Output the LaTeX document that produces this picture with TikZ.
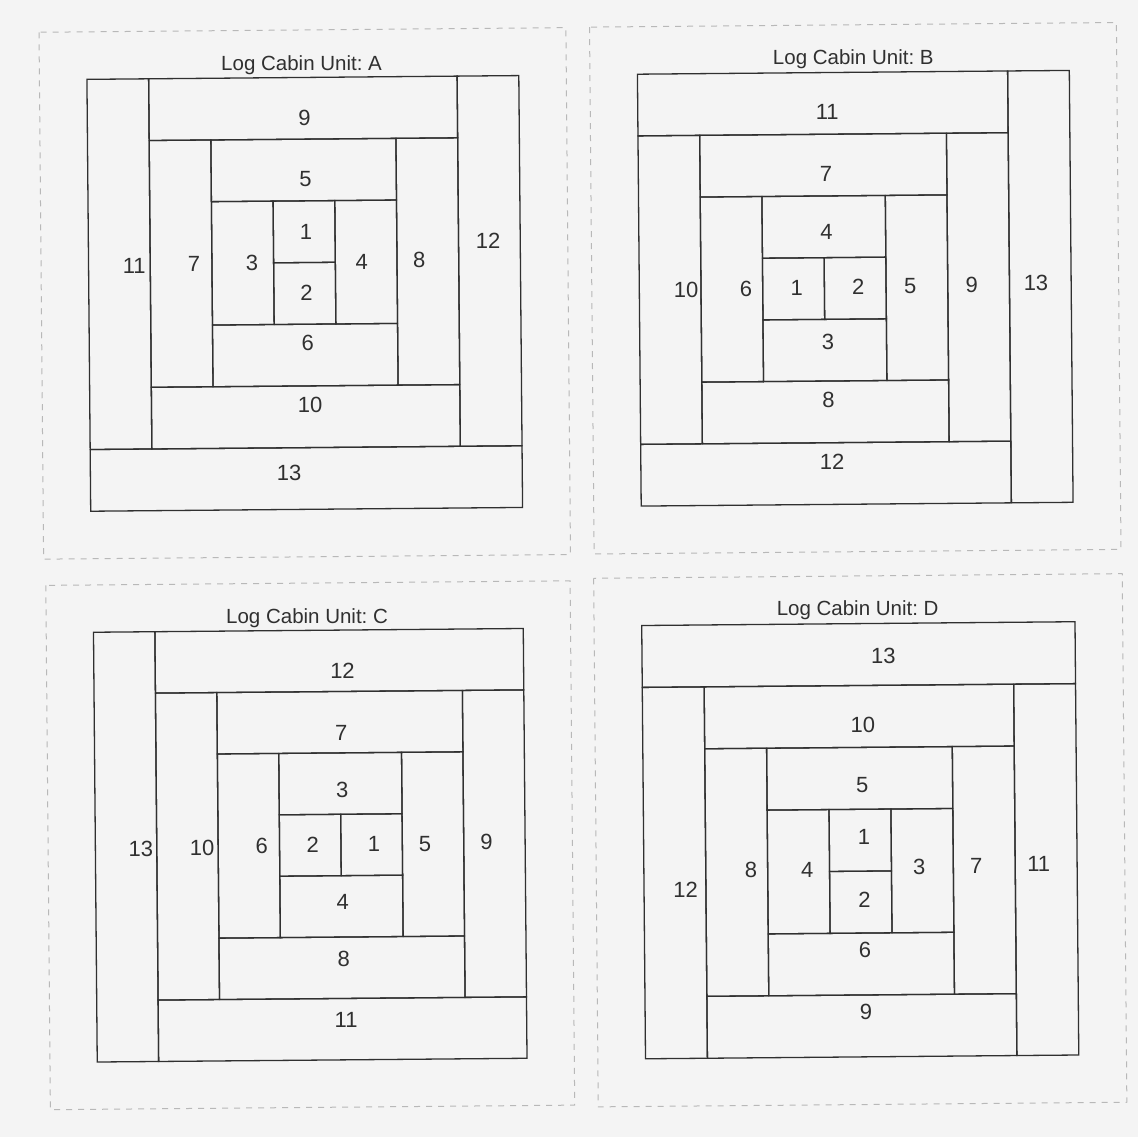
\documentclass[tikz,border=0pt]{standalone}
\usepackage{fontspec}
\setmainfont{Liberation Sans}
\frenchspacing
\definecolor{paper}{HTML}{F4F4F4}
\definecolor{ink}{HTML}{303030}
\definecolor{dashc}{HTML}{B8B8B8}
\tikzset{
  strip/.style={draw=ink, line width=1.3pt},
  num/.style={text=ink, font=\fontsize{22}{24}\selectfont, inner sep=0pt},
  ttl/.style={text=ink, font=\fontsize{20.5}{23}\selectfont, inner sep=0pt, anchor=base},
  cutline/.style={draw=dashc, line width=1pt, dash pattern=on 6pt off 6pt},
}
\begin{document}
\begin{tikzpicture}[x=1pt, y=-1pt]
\fill[paper] (0,0) rectangle (1138,1137);
\useasboundingbox (0,0) rectangle (1138,1137);

% ---------------- Unit A ----------------
\begin{scope}[shift={(304.75,293.4)}, rotate=0.5, x=61.7pt, y=-61.7pt, shift={(-3.5,-3.5)}]
  \draw[cutline] (-0.77,-0.77) rectangle (7.77,7.77);
  \node[ttl] (At) at (3.48,-0.12) {Log Cabin Unit: A};
  \draw[strip] (3,2) rectangle (4,3);
  \draw[strip] (3,3) rectangle (4,4);
  \draw[strip] (2,2) rectangle (3,4);
  \draw[strip] (4,2) rectangle (5,4);
  \draw[strip] (2,1) rectangle (5,2);
  \draw[strip] (2,4) rectangle (5,5);
  \draw[strip] (1,1) rectangle (2,5);
  \draw[strip] (5,1) rectangle (6,5);
  \draw[strip] (1,0) rectangle (6,1);
  \draw[strip] (1,5) rectangle (6,6);
  \draw[strip] (0,0) rectangle (1,6);
  \draw[strip] (6,0) rectangle (7,6);
  \draw[strip] (0,6) rectangle (7,7);
  \node[num] (A1)  at (3.53,2.50) {1};
  \node[num] (A2)  at (3.53,3.49) {2};
  \node[num] (A3)  at (2.65,3.00) {3};
  \node[num] (A4)  at (4.43,3.00) {4};
  \node[num] (A5)  at (3.53,1.65) {5};
  \node[num] (A6)  at (3.54,4.31) {6};
  \node[num] (A7)  at (1.71,3.00) {7};
  \node[num] (A8)  at (5.36,2.98) {8};
  \node[num] (A9)  at (3.52,0.66) {9};
  \node[num] (A10) at (3.57,5.31) {10};
  \node[num] (A11) at (0.74,3.03) {11};
  \node[num] (A12) at (6.48,2.67) {12};
  \node[num] (A13) at (3.22,6.41) {13};
\end{scope}

% ---------------- Unit B ----------------
\begin{scope}[shift={(855.25,288.25)}, rotate=0.5, x=61.7pt, y=-61.7pt, shift={(-3.5,-3.5)}]
  \draw[cutline] (-0.77,-0.77) rectangle (7.77,7.77);
  \node[ttl] (Bt) at (3.5,-0.13) {Log Cabin Unit: B};
  \draw[strip] (2,3) rectangle (3,4);
  \draw[strip] (3,3) rectangle (4,4);
  \draw[strip] (2,4) rectangle (4,5);
  \draw[strip] (2,2) rectangle (4,3);
  \draw[strip] (4,2) rectangle (5,5);
  \draw[strip] (1,2) rectangle (2,5);
  \draw[strip] (1,1) rectangle (5,2);
  \draw[strip] (1,5) rectangle (5,6);
  \draw[strip] (5,1) rectangle (6,6);
  \draw[strip] (0,1) rectangle (1,6);
  \draw[strip] (0,0) rectangle (6,1);
  \draw[strip] (0,6) rectangle (6,7);
  \draw[strip] (6,0) rectangle (7,7);
  \node[num] (B1)  at (2.55,3.48) {1};
  \node[num] (B2)  at (3.55,3.48) {2};
  \node[num] (B3)  at (3.05,4.37) {3};
  \node[num] (B4)  at (3.04,2.58) {4};
  \node[num] (B5)  at (4.39,3.47) {5};
  \node[num] (B6)  at (1.73,3.49) {6};
  \node[num] (B7)  at (3.04,1.65) {7};
  \node[num] (B8)  at (3.05,5.31) {8};
  \node[num] (B9)  at (5.39,3.47) {9};
  \node[num] (B10) at (0.76,3.51) {10};
  \node[num] (B11) at (3.07,0.64) {11};
  \node[num] (B12) at (3.10,6.31) {12};
  \node[num] (B13) at (6.43,3.44) {13};
\end{scope}

% ---------------- Unit C ----------------
\begin{scope}[shift={(310.25,845.25)}, rotate=0.5, x=61.4pt, y=-61.4pt, shift={(-3.5,-3.5)}]
  \draw[cutline] (-0.77,-0.77) rectangle (7.77,7.77);
  \node[ttl] (Ct) at (3.48,-0.12) {Log Cabin Unit: C};
  \draw[strip] (4,3) rectangle (5,4);
  \draw[strip] (3,3) rectangle (4,4);
  \draw[strip] (3,2) rectangle (5,3);
  \draw[strip] (3,4) rectangle (5,5);
  \draw[strip] (5,2) rectangle (6,5);
  \draw[strip] (2,2) rectangle (3,5);
  \draw[strip] (2,1) rectangle (6,2);
  \draw[strip] (2,5) rectangle (6,6);
  \draw[strip] (6,1) rectangle (7,6);
  \draw[strip] (1,1) rectangle (2,6);
  \draw[strip] (1,6) rectangle (7,7);
  \draw[strip] (1,0) rectangle (7,1);
  \draw[strip] (0,0) rectangle (1,7);
  \node[num] (C1)  at (4.54,3.49) {1};
  \node[num] (C2)  at (3.54,3.50) {2};
  \node[num] (C3)  at (4.03,2.60) {3};
  \node[num] (C4)  at (4.02,4.42) {4};
  \node[num] (C5)  at (5.37,3.49) {5};
  \node[num] (C6)  at (2.71,3.51) {6};
  \node[num] (C7)  at (4.02,1.67) {7};
  \node[num] (C8)  at (4.03,5.35) {8};
  \node[num] (C9)  at (6.37,3.47) {9};
  \node[num] (C10) at (1.74,3.53) {10};
  \node[num] (C11) at (4.06,6.35) {11};
  \node[num] (C12) at (4.05,0.66) {12};
  \node[num] (C13) at (0.74,3.53) {13};
\end{scope}

% ---------------- Unit D ----------------
\begin{scope}[shift={(860.25,840.25)}, rotate=0.5, x=61.9pt, y=-61.9pt, shift={(-3.5,-3.5)}]
  \draw[cutline] (-0.77,-0.77) rectangle (7.77,7.77);
  \node[ttl] (Dt) at (3.49,-0.13) {Log Cabin Unit: D};
  \draw[strip] (3,3) rectangle (4,4);
  \draw[strip] (3,4) rectangle (4,5);
  \draw[strip] (4,3) rectangle (5,5);
  \draw[strip] (2,3) rectangle (3,5);
  \draw[strip] (2,2) rectangle (5,3);
  \draw[strip] (2,5) rectangle (5,6);
  \draw[strip] (5,2) rectangle (6,6);
  \draw[strip] (1,2) rectangle (2,6);
  \draw[strip] (1,6) rectangle (6,7);
  \draw[strip] (1,1) rectangle (6,2);
  \draw[strip] (6,1) rectangle (7,7);
  \draw[strip] (0,1) rectangle (1,7);
  \draw[strip] (0,0) rectangle (7,1);
  \node[num] (D1)  at (3.56,3.45) {1};
  \node[num] (D2)  at (3.56,4.46) {2};
  \node[num] (D3)  at (4.45,3.94) {3};
  \node[num] (D4)  at (2.64,3.97) {4};
  \node[num] (D5)  at (3.54,2.61) {5};
  \node[num] (D6)  at (3.56,5.28) {6};
  \node[num] (D7)  at (5.37,3.93) {7};
  \node[num] (D8)  at (1.73,3.97) {8};
  \node[num] (D9)  at (3.57,6.27) {9};
  \node[num] (D10) at (3.56,1.63) {10};
  \node[num] (D11) at (6.38,3.91) {11};
  \node[num] (D12) at (0.67,4.28) {12};
  \node[num] (D13) at (3.90,0.53) {13};
\end{scope}
\end{tikzpicture}
\end{document}
